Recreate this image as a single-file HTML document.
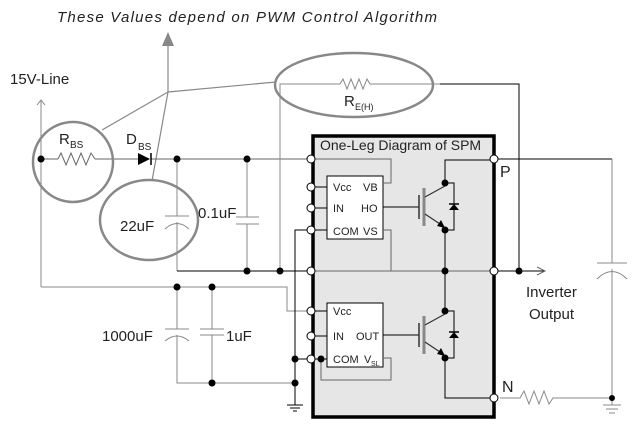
<!DOCTYPE html>
<html><head><style>body{margin:0;background:#fff}svg{display:block}text{font-family:"Liberation Sans",sans-serif;fill:#222}</style></head><body>
<svg width="640" height="437" viewBox="0 0 640 437" xmlns="http://www.w3.org/2000/svg">
<defs>
<g id="igbt">
<line x1="383" y1="0" x2="419" y2="0" stroke="#000"/>
<line x1="419" y1="-12" x2="419" y2="12" stroke="#333" stroke-width="1.5"/>
<line x1="424" y1="-19" x2="424" y2="19" stroke="#888" stroke-width="3"/>
<line x1="425" y1="-10" x2="445" y2="-21" stroke="#333" stroke-width="1.2"/>
<line x1="425" y1="7" x2="443" y2="19" stroke="#333" stroke-width="1.2"/>
<polygon points="445,21 437,19 441,13" fill="#000"/>
<circle cx="445" cy="-24" r="3.5" fill="#000"/>
<circle cx="445" cy="23" r="3.5" fill="#000"/>
<polyline points="445,-24 454,-24 454,23 445,23" fill="none" stroke="#000"/>
<polygon points="454,-3 449,3 459,3" fill="#000"/>
<line x1="449" y1="-3" x2="459" y2="-3" stroke="#000" stroke-width="1.5"/>
</g>
</defs>
<text x="57" y="22" font-size="15" font-style="italic" textLength="380" lengthAdjust="spacing">These Values depend on PWM Control Algorithm</text>
<g stroke="#888" fill="none" stroke-width="1.2">
<line x1="168" y1="92" x2="168" y2="44"/>
<line x1="168" y1="92" x2="276" y2="82"/>
<line x1="168" y1="92" x2="102" y2="130"/>
<line x1="168" y1="92" x2="152" y2="181"/>
</g>
<polygon points="168,32 162,46 174,46" fill="#888"/>
<text x="10" y="84" font-size="15">15V-Line</text>
<g stroke="#888" fill="none">
<line x1="41" y1="100" x2="41" y2="287"/>
<polyline points="37,105 41,100 45,105"/>
<polyline points="41,287 287,287 287,311 308,311"/>
</g>
<g stroke="#666" fill="none">
<line x1="41" y1="159" x2="58" y2="159"/>
<polyline points="58,159 61,153 66,165 71,153 76,165 81,153 86,165 91,153 95,159"/>
<line x1="95" y1="159" x2="138" y2="159"/>
<line x1="151" y1="159" x2="308" y2="159"/>
</g>
<polygon points="138,153 138,165 150,159" fill="#000"/>
<line x1="151" y1="153" x2="151" y2="165" stroke="#000" stroke-width="1.5"/>
<text x="59" y="144" font-size="15">R</text><text x="70" y="148" font-size="10">BS</text>
<text x="126" y="144" font-size="15">D</text><text x="138" y="150" font-size="10">BS</text>
<g stroke="#888" fill="none">
<line x1="177" y1="159" x2="177" y2="216"/>
<line x1="165" y1="216" x2="189" y2="216"/>
<path d="M165,229 Q177,218 189,229"/>
<line x1="177" y1="222" x2="177" y2="271"/>
<line x1="247" y1="159" x2="247" y2="217"/>
<line x1="236" y1="217" x2="259" y2="217"/>
<line x1="236" y1="224" x2="259" y2="224"/>
<line x1="247" y1="224" x2="247" y2="271"/>
</g>
<line x1="177" y1="271" x2="308" y2="271" stroke="#000"/>
<text x="120" y="231" font-size="15">22uF</text>
<text x="198" y="218" font-size="15">0.1uF</text>
<g stroke="#888" fill="none" stroke-width="2.5">
<circle cx="73" cy="162" r="40"/>
<ellipse cx="149" cy="220" rx="49" ry="40"/>
<ellipse cx="354" cy="85" rx="79" ry="32"/>
</g>
<g stroke="#888" fill="none">
<polyline points="280,271 280,84 340,84"/>
<polyline points="340,84 343,79 347,89 351,79 355,89 359,79 363,89 367,79 370,84 440,84"/>
</g>
<polyline points="440,84 519,84 519,271" stroke="#000" fill="none"/>
<text x="344" y="106" font-size="15">R</text><text x="355" y="110" font-size="9">E(H)</text>
<rect x="313" y="136" width="181" height="281" fill="#e6e6e6" stroke="#000" stroke-width="3.5"/>
<text x="320" y="150" font-size="14">One-Leg Diagram of SPM</text>
<rect x="327" y="176" width="56" height="63" fill="#fff" stroke="#000"/>
<rect x="327" y="303" width="56" height="64" fill="#fff" stroke="#000"/>
<g font-size="11">
<text x="333" y="191">Vcc</text><text x="333" y="212">IN</text><text x="333" y="235">COM</text>
<text x="363" y="191">VB</text><text x="361" y="212">HO</text><text x="363" y="235">VS</text>
<text x="333" y="315">Vcc</text><text x="333" y="340">IN</text><text x="333" y="363">COM</text>
<text x="356" y="340">OUT</text><text x="364" y="363">V</text><text x="371" y="366" font-size="7">SL</text>
</g>
<g stroke="#000" fill="none">
<line x1="311" y1="187" x2="327" y2="187"/>
<line x1="311" y1="208" x2="327" y2="208"/>
<line x1="311" y1="230" x2="327" y2="230"/>
<line x1="311" y1="311" x2="327" y2="311"/>
<line x1="311" y1="336" x2="327" y2="336"/>
<line x1="311" y1="359" x2="327" y2="359"/>
</g>
<g stroke="#666" fill="none">
<polyline points="311,159 391,159 391,183 383,183"/>
<polyline points="383,230 391,230 391,271 311,271"/>
<line x1="311" y1="271" x2="494" y2="271"/>
<polyline points="321,359 321,380 391,380 391,358 383,358"/>
</g>
<g stroke="#000" fill="none">
<polyline points="311,230 295,230 295,405"/>
<line x1="295" y1="359" x2="311" y2="359"/>
<line x1="287" y1="405" x2="303" y2="405"/>
<line x1="290" y1="408" x2="300" y2="408"/>
<line x1="293" y1="411" x2="297" y2="411"/>
</g>
<g stroke="#888" fill="none">
<polyline points="177,287 177,329"/>
<line x1="165" y1="329" x2="189" y2="329"/>
<path d="M165,341 Q177,331 189,341"/>
<polyline points="177,335 177,383 295,383"/>
<line x1="212" y1="287" x2="212" y2="329"/>
<line x1="200" y1="329" x2="224" y2="329"/>
<line x1="200" y1="335" x2="224" y2="335"/>
<line x1="212" y1="335" x2="212" y2="383"/>
</g>
<text x="102" y="341" font-size="15">1000uF</text>
<text x="226" y="341" font-size="15">1uF</text>
<g transform="translate(0,207)"><use href="#igbt"/></g>
<g transform="translate(0,335)"><use href="#igbt"/></g>
<g stroke="#000" fill="none">
<polyline points="494,160 445,160 445,183"/>
<line x1="445" y1="230" x2="445" y2="311"/>
<polyline points="445,358 445,398 494,398"/>
</g>
<circle cx="445" cy="271" r="3.5" fill="#000"/>
<g stroke="#000" fill="none">
<line x1="494" y1="159" x2="612" y2="159"/>
<line x1="494" y1="271" x2="545" y2="271"/>
</g>
<polyline points="537,267 545,271 537,275" stroke="#666" fill="none"/>
<g stroke="#888" fill="none">
<line x1="612" y1="159" x2="612" y2="263"/>
<line x1="597" y1="263" x2="627" y2="263"/>
<path d="M597,279 Q612,264 627,279"/>
<line x1="612" y1="269" x2="612" y2="405"/>
<polyline points="500,398 520,398 524,391 529,404 534,391 539,404 544,391 549,404 553,398 612,398"/>
<line x1="603" y1="405" x2="621" y2="405"/>
<line x1="606" y1="409" x2="618" y2="409"/>
<line x1="609" y1="413" x2="615" y2="413"/>
</g>
<text x="500" y="177" font-size="16">P</text>
<text x="502" y="392" font-size="16">N</text>
<text x="526" y="297" font-size="15">Inverter</text>
<text x="529" y="319" font-size="15">Output</text>
<g fill="#000">
<circle cx="41" cy="159" r="3.5"/><circle cx="177" cy="159" r="3.5"/><circle cx="247" cy="159" r="3.5"/>
<circle cx="247" cy="271" r="3.5"/><circle cx="280" cy="271" r="3.5"/>
<circle cx="177" cy="287" r="3.5"/><circle cx="212" cy="287" r="3.5"/>
<circle cx="212" cy="383" r="3.5"/><circle cx="295" cy="383" r="3.5"/><circle cx="295" cy="359" r="3.5"/>
<circle cx="321" cy="359" r="3.5"/><circle cx="519" cy="271" r="3.5"/><circle cx="612" cy="398" r="3"/>
</g>
<g fill="#fff" stroke="#000">
<circle cx="311" cy="159" r="4"/><circle cx="311" cy="187" r="4"/><circle cx="311" cy="208" r="4"/>
<circle cx="311" cy="230" r="4"/><circle cx="311" cy="271" r="4"/><circle cx="311" cy="311" r="4"/>
<circle cx="311" cy="336" r="4"/><circle cx="311" cy="359" r="4"/>
<circle cx="494" cy="159" r="4"/><circle cx="494" cy="271" r="4"/><circle cx="494" cy="398" r="4"/>
</g>
</svg>
</body></html>
